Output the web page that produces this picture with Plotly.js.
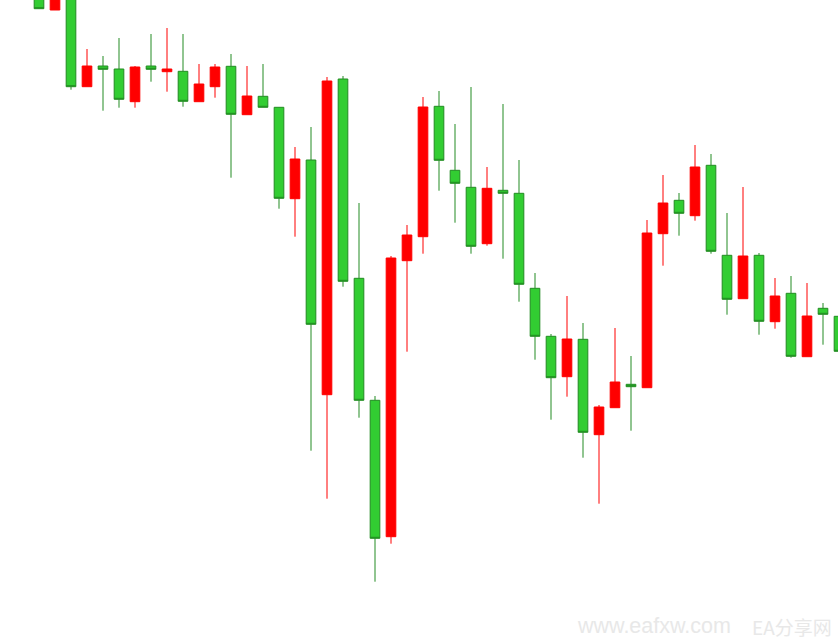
<!DOCTYPE html>
<html>
<head>
<meta charset="utf-8">
<script src="https://cdn.plot.ly/plotly-3.0.1.min.js"></script>
<style>
  html, body { margin: 0; padding: 0; background: #ffffff; }
  #chart { width: 838px; height: 639px; }
</style>
</head>
<body>
<div id="chart"></div>
<script>
// Candle index (bar number)
const bars = [0,1,2,3,4,5,6,7,8,9,10,11,12,13,14,15,16,17,18,19,20,21,22,23,24,25,26,27,28,29,30,31,32,33,34,35,36,37,38,39,40,41,42,43,44,45,46,47,48,49,50];

const openVals = [664,629,649,552.3,573,570,537.3,573,567.3,567.7,537.3,552.3,572.7,524.3,542.7,531.7,440.3,479,244.3,560,360.7,238.7,102.3,378.3,402.3,532.7,468.7,451.7,395.3,448.7,445.7,350.7,302.7,262.3,299.7,204.3,231.3,254.7,251.3,405.3,438.7,423.3,473.7,383.7,340.3,383.7,317.3,345.7,282.3,330.7,322.7];

const highVals = [684,679,659,590,583,601,573,605,611,605,575,575,585,573,575,531.7,492,512,562,563,436,243,383,414,542,548,515,552,472,535,479,366,305,343,316,234,311,283,419,464,446,494,485,426,452,386,361,363,356,336,334];

const lowVals = [630,629,549.3,552.3,528.3,531.3,531.3,557.3,547.3,532.3,537.3,541.3,461.3,524.3,531.7,430.3,402.3,188.3,140.3,352.3,221.3,57.3,95.3,287.3,385.3,448.3,416.3,385.3,393.3,380.3,337.3,279.3,219.3,242.3,181.3,135.3,231.3,208.3,251.3,373.3,403.3,418.3,385.3,324.3,340.3,304.3,310.3,281.3,282.3,294.3,279];

const closeVals = [630.3,659,552.3,573,569.7,539.7,572,569.7,570,537.7,555,572,524.7,543,531.7,440.7,480,314.7,558,357.7,238.7,100.7,381,404,532,478.7,455.7,392.7,450.7,445.7,354.7,302.7,261.3,300,206.7,232,257,252.3,406,436,425.7,472,387.7,339.7,383,317.7,343,282.7,323,324.7,287.7];

const watermarkUrl = "www.eafxw.com";
const watermarkName = "EA分享网";

const trace = {
  type: 'candlestick',
  x: bars,
  open: openVals,
  high: highVals,
  low: lowVals,
  close: closeVals,
  increasing: { line: { color: '#ff0000', width: 1 }, fillcolor: '#ff0000' },
  decreasing: { line: { color: '#228b22', width: 1 }, fillcolor: '#32cd32' },
  whiskerwidth: 0,
  hoverinfo: 'none',
  showlegend: false
};

const layout = {
  width: 838,
  height: 639,
  margin: { l: 0, r: 0, t: 0, b: 0, pad: 0 },
  paper_bgcolor: '#ffffff',
  plot_bgcolor: '#ffffff',
  showlegend: false,
  boxgap: 0.14,
  xaxis: {
    range: [-2.4375, 49.9375],
    visible: false,
    showgrid: false,
    zeroline: false,
    rangeslider: { visible: false },
    fixedrange: true
  },
  yaxis: {
    range: [0, 639],
    visible: false,
    showgrid: false,
    zeroline: false,
    fixedrange: true
  },
  annotations: [
    {
      text: watermarkUrl, xref: 'paper', yref: 'paper',
      x: 575 / 838, y: (639 - 626) / 639, xanchor: 'left', yanchor: 'middle',
      showarrow: false,
      font: { family: 'Liberation Sans, Arial, sans-serif', size: 21.5, color: '#e8e8e8' }
    },
    {
      text: watermarkName, xref: 'paper', yref: 'paper',
      x: 750 / 838, y: (639 - 626) / 639, xanchor: 'left', yanchor: 'middle',
      showarrow: false,
      font: { family: 'Noto Sans CJK SC, Liberation Sans, sans-serif', size: 19, color: '#e8e8e8' }
    }
  ]
};

Plotly.newPlot('chart', [trace], layout, { displayModeBar: false, staticPlot: true });
</script>
</body>
</html>
